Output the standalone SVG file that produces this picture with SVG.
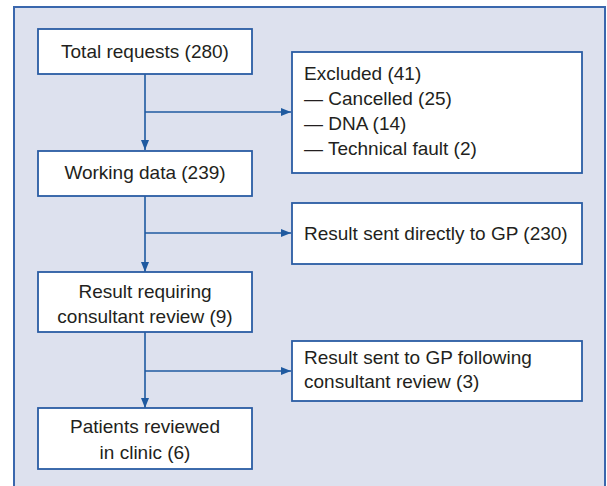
<svg xmlns="http://www.w3.org/2000/svg" width="607" height="486" viewBox="0 0 607 486">
<style>
.panel{fill:#dde1ee;stroke:#3a67ad;stroke-width:2}
.box{fill:#ffffff;stroke:#2a5ca3;stroke-width:1.8}
.t{font-family:"Liberation Sans",Arial,sans-serif;font-size:19px;fill:#231f20}
.c{text-anchor:middle}
.con{fill:none;stroke:#1f5aa0;stroke-width:1.6}
</style>
<defs>
<marker id="ah" viewBox="0 0 10 8" refX="10" refY="4" markerWidth="10" markerHeight="8" markerUnits="userSpaceOnUse" orient="auto">
<path d="M0,0 L10,4 L0,8 Z" fill="#1f5aa0"/>
</marker>
</defs>
<rect class="panel" x="14" y="7" width="591" height="490"/>
<g id="connectors">
<line class="con" x1="145" y1="74" x2="145" y2="150" marker-end="url(#ah)"/>
<line class="con" x1="145" y1="112" x2="291" y2="112" marker-end="url(#ah)"/>
<line class="con" x1="145" y1="196" x2="145" y2="272" marker-end="url(#ah)"/>
<line class="con" x1="145" y1="233" x2="291" y2="233" marker-end="url(#ah)"/>
<line class="con" x1="145" y1="332" x2="145" y2="408" marker-end="url(#ah)"/>
<line class="con" x1="145" y1="371" x2="291" y2="371" marker-end="url(#ah)"/>
</g>
<g id="total">
<rect class="box" x="38" y="29" width="214" height="45"/>
<text class="t c" x="145" y="58">Total requests (280)</text>
</g>
<g id="excluded">
<rect class="box" x="292" y="52" width="290" height="121"/>
<text class="t" x="304" y="80">Excluded (41)</text>
<text class="t" x="304" y="105">— Cancelled (25)</text>
<text class="t" x="304" y="130">— DNA (14)</text>
<text class="t" x="304" y="155">— Technical fault (2)</text>
</g>
<g id="working">
<rect class="box" x="38" y="151" width="214" height="45"/>
<text class="t c" x="145" y="179">Working data (239)</text>
</g>
<g id="direct">
<rect class="box" x="292" y="203" width="290" height="61"/>
<text class="t" x="304" y="240">Result sent directly to GP (230)</text>
</g>
<g id="review">
<rect class="box" x="38" y="272" width="214" height="60"/>
<text class="t c" x="145" y="298">Result requiring</text>
<text class="t c" x="145" y="323">consultant review (9)</text>
</g>
<g id="following">
<rect class="box" x="292" y="341" width="290" height="60"/>
<text class="t" x="304" y="364">Result sent to GP following</text>
<text class="t" x="304" y="388">consultant review (3)</text>
</g>
<g id="clinic">
<rect class="box" x="38" y="408" width="214" height="61"/>
<text class="t c" x="145" y="433">Patients reviewed</text>
<text class="t c" x="145" y="459">in clinic (6)</text>
</g>
</svg>
